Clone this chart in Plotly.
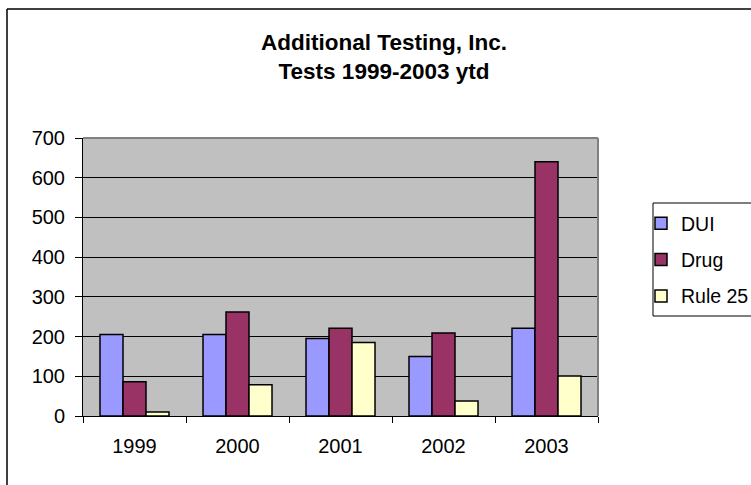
import plotly.graph_objects as go

years = ["1999", "2000", "2001", "2002", "2003"]
dui = [205, 205, 195, 150, 221]
drug = [86, 262, 221, 209, 640]
rule25 = [10, 79, 185, 38, 101]
y_ticks = [0, 100, 200, 300, 400, 500, 600, 700]

series = [
    ("DUI", dui, "#9999FF"),
    ("Drug", drug, "#993366"),
    ("Rule 25", rule25, "#FFFFCC"),
]

FONT = "Liberation Sans, Arial, sans-serif"

fig = go.Figure()
for i, (name, vals, col) in enumerate(series):
    fig.add_trace(go.Bar(
        x=years, y=vals, name=name,
        marker=dict(color=col, line=dict(color="black", width=1.5)),
        legendgroup=f"g{i}",
    ))

L, T, W, H = 83, 138, 515, 278


def px(xp):
    return (xp - L) / W


def py(yp):
    return (T + H - yp) / H


fig.update_layout(
    width=751, height=485,
    margin=dict(l=L, r=751 - L - W, t=T, b=485 - T - H, pad=0, autoexpand=False),
    paper_bgcolor="white",
    plot_bgcolor="#C0C0C0",
    barmode="group",
    bargap=0.33,
    bargroupgap=0,
    font=dict(family=FONT, size=20, color="black"),
    title=dict(
        text="Additional Testing, Inc.<br>Tests 1999-2003 ytd",
        font=dict(family=FONT, size=22.5, color="black", weight="bold"),
        xref="container", x=384 / 751, xanchor="center",
        yref="container", y=1 - 50 / 485, yanchor="top",
    ),
    legend=dict(
        x=px(641), xanchor="left",
        y=py(204), yanchor="top",
        bgcolor="rgba(0,0,0,0)", borderwidth=0,
        font=dict(family=FONT, size=19.5, color="black"),
        tracegroupgap=8,
        traceorder="grouped",
    ),
    showlegend=True,
    xaxis=dict(
        type="category",
        showline=True, linecolor="black", linewidth=1,
        ticks="outside", tickson="boundaries", ticklen=6, tickcolor="black",
        showgrid=False,
        ticklabelstandoff=12,
    ),
    yaxis=dict(
        range=[0, 700],
        tickvals=y_ticks,
        showline=True, linecolor="black", linewidth=1,
        ticks="outside", ticklen=7, tickcolor="black",
        showgrid=True, gridcolor="black", gridwidth=1,
        zeroline=False,
        ticklabelstandoff=6,
    ),
    shapes=[
        # plot-area border (top, right)
        dict(type="line", xref="paper", yref="paper", x0=0, x1=1, y0=1, y1=1,
             line=dict(color="#808080", width=2)),
        dict(type="line", xref="paper", yref="paper", x0=1, x1=1, y0=0, y1=1,
             line=dict(color="#808080", width=2)),
        # outer chart-area border (top and left edges; right/bottom fall outside)
        dict(type="line", xref="paper", yref="paper",
             x0=px(7), x1=px(751), y0=py(9), y1=py(9),
             line=dict(color="black", width=1.5)),
        dict(type="line", xref="paper", yref="paper",
             x0=px(7), x1=px(7), y0=py(9), y1=py(485),
             line=dict(color="black", width=1.5)),
        # legend frame, running off the right edge as in the reference
        dict(type="line", xref="paper", yref="paper",
             x0=px(653), x1=px(653), y0=py(203), y1=py(316),
             line=dict(color="black", width=1)),
        dict(type="line", xref="paper", yref="paper",
             x0=px(653), x1=px(751), y0=py(203), y1=py(203),
             line=dict(color="black", width=1)),
        dict(type="line", xref="paper", yref="paper",
             x0=px(653), x1=px(751), y0=py(316), y1=py(316),
             line=dict(color="black", width=1)),
    ],
)

fig.write_html(
    "out.html",
    config={"displayModeBar": False},
    post_script=(
        "document.documentElement.style.overflow='hidden';"
        "document.body.style.margin='0';"
        "document.body.style.overflow='hidden';"
        "var d=document.getElementById('{plot_id}');"
        "d.style.overflow='hidden';"
        "var c=d.querySelector('.svg-container'); if(c){c.style.overflow='hidden';}"
    ),
)
